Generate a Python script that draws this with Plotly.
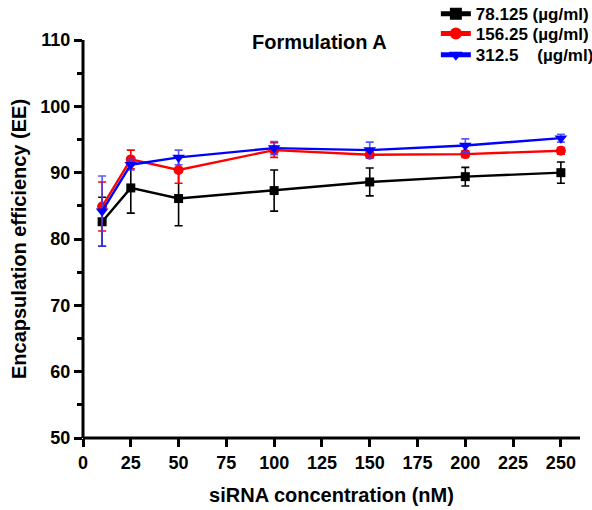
import plotly.graph_objects as go

x_vals = [10, 25, 50, 100, 150, 200, 250]

s1_name = "78.125 (µg/ml)"
s1_y = [82.6, 87.7, 86.1, 87.3, 88.6, 89.4, 90.0]
s1_err = [3.7, 3.8, 4.1, 3.1, 2.1, 1.4, 1.6]

s2_name = "156.25 (µg/ml)"
s2_y = [84.9, 92.0, 90.4, 93.4, 92.7, 92.8, 93.3]
s2_err = [3.7, 1.4, 2.0, 1.1, 0.5, 0.5, 0.5]

s3_name = "312.5\u00a0\u00a0\u00a0 (µg/ml)"
s3_y = [84.2, 91.2, 92.3, 93.7, 93.4, 94.1, 95.2]
s3_err = [5.3, 0.8, 1.1, 1.0, 1.2, 1.0, 0.6]

x_ticks = list(range(0, 251, 25))
y_ticks = list(range(50, 111, 10))

font_fam = "Liberation Sans, Arial, sans-serif"

fig = go.Figure()
series = [
    (s1_name, s1_y, s1_err, "black", "black", "square", 9, "legend"),
    (s2_name, s2_y, s2_err, "red", "red", "circle", 10, "legend2"),
    (s3_name, s3_y, s3_err, "blue", "rgba(60,60,255,0.85)", "triangle-down", 11, "legend3"),
]
for name, ys, errs, col, ecol, sym, sz, lg in series:
    fig.add_trace(go.Scatter(
        x=x_vals, y=ys, name=name, mode="lines+markers", legend=lg,
        line=dict(color=col, width=2.4),
        marker=dict(symbol=sym, size=sz, color=col),
        error_y=dict(type="data", array=errs, visible=True, color=ecol, thickness=1.6, width=4),
    ))

leg_common = dict(
    x=0.71, xanchor="left", yanchor="middle",
    font=dict(family=font_fam, size=17, color="black", weight="bold"),
    bgcolor="rgba(0,0,0,0)", itemsizing="constant",
)

axis_line = dict(color="black", width=3)

fig.update_layout(
    width=592, height=510,
    margin=dict(l=83, r=12, t=40, b=72, autoexpand=False),
    paper_bgcolor="white", plot_bgcolor="white",
    font=dict(family=font_fam, size=15, color="black"),
    showlegend=True,
    legend=dict(y=1.065, **leg_common),
    legend2=dict(y=1.015, **leg_common),
    legend3=dict(y=0.962, **leg_common),
    shapes=[
        dict(type="line", xref="paper", yref="paper", x0=0, x1=1, y0=0, y1=0, line=axis_line, layer="above"),
        dict(type="line", xref="paper", yref="paper", x0=0, x1=0, y0=0, y1=1, line=axis_line, layer="above"),
    ],
    annotations=[dict(
        text="<b>Formulation A</b>", x=0.475, y=0.995, xref="paper", yref="paper",
        xanchor="center", yanchor="middle", showarrow=False,
        font=dict(family=font_fam, size=20, color="black"),
    )],
)

fig.update_xaxes(
    range=[0, 260], tickvals=x_ticks, ticktext=[str(t) for t in x_ticks],
    showline=False, showgrid=False, zeroline=False,
    ticks="outside", ticklen=8, tickwidth=2.5, tickcolor="black",
    tickfont=dict(family=font_fam, size=18, color="black", weight="bold"),
    title=dict(text="<b>siRNA concentration (nM)</b>", font=dict(family=font_fam, size=20), standoff=16),
)
fig.update_yaxes(
    range=[50, 110], tickvals=y_ticks, ticktext=[str(t) for t in y_ticks],
    showline=False, showgrid=False, zeroline=False,
    ticks="outside", ticklen=8, tickwidth=2.5, tickcolor="black",
    minor=dict(dtick=5, ticks="outside", ticklen=5, tickwidth=2.5, tickcolor="black", showgrid=False),
    tickfont=dict(family=font_fam, size=18, color="black", weight="bold"),
    title=dict(text="<b>Encapsulation efficiency (EE)</b>", font=dict(family=font_fam, size=20), standoff=8),
)

fig.write_html("out.html")
